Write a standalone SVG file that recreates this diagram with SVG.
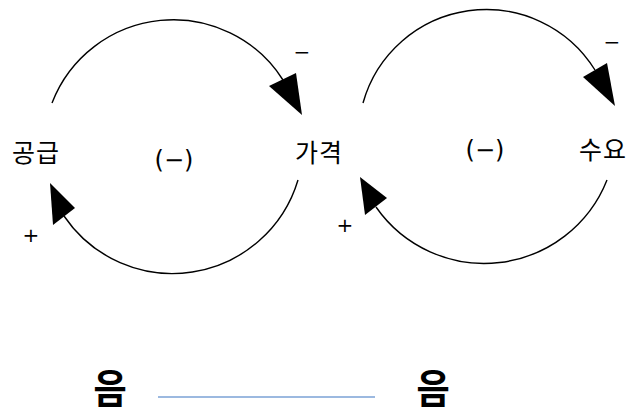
<svg xmlns="http://www.w3.org/2000/svg" width="627" height="415" viewBox="0 0 627 415">
<style>
.arc{fill:none;stroke:#000;stroke-width:1.4}
.head{fill:#000}
.lbl{font-family:"Noto Sans CJK KR","Noto Sans",sans-serif;font-size:25px;fill:#000;text-anchor:middle;letter-spacing:1px}
.sign{font-family:"DejaVu Sans",sans-serif;font-size:20px;fill:#000;text-anchor:middle}
.loop{font-family:"DejaVu Sans",sans-serif;font-size:24px;fill:#000;text-anchor:middle}
.big{font-family:"Noto Sans CJK KR",sans-serif;font-size:38px;font-weight:700;fill:#000;text-anchor:middle}
</style>
<rect width="627" height="415" fill="#fff"/>
<g id="connectors">
<path class="arc" d="M52,103 A130,130 0 0 1 283,80"/>
<polygon class="head" points="302,115 269,86 296,73"/>
<path class="arc" d="M298,180 A131,131 0 0 1 64,216"/>
<polygon class="head" points="50,183 53,225 75,208"/>
<path class="arc" d="M363,103 A128,128 0 0 1 595,70"/>
<polygon class="head" points="615,106 583,77 607,63"/>
<path class="arc" d="M607,180 A132,132 0 0 1 376,207"/>
<polygon class="head" points="360,177 365,215 387,198"/>
<line x1="158" y1="397" x2="375" y2="397" stroke="#7ba2d6" stroke-width="1.6"/>
</g>
<g id="supply"><text class="lbl" x="36" y="162">공급</text></g>
<g id="price"><text class="lbl" x="319" y="162">가격</text></g>
<g id="demand"><text class="lbl" x="603" y="159">수요</text></g>
<g id="loop1"><text class="loop" x="174" y="168">(−)</text></g>
<g id="loop2"><text class="loop" x="485" y="158">(−)</text></g>
<g id="signs">
<text class="sign" x="302" y="59">−</text>
<text class="sign" x="612" y="49">−</text>
<text class="sign" x="31" y="242">+</text>
<text class="sign" x="345" y="232">+</text>
</g>
<g id="bottom">
<text class="big" transform="translate(110,403) scale(0.95,1.05)">음</text>
<text class="big" transform="translate(433,403) scale(0.95,1.05)">음</text>
</g>
</svg>
